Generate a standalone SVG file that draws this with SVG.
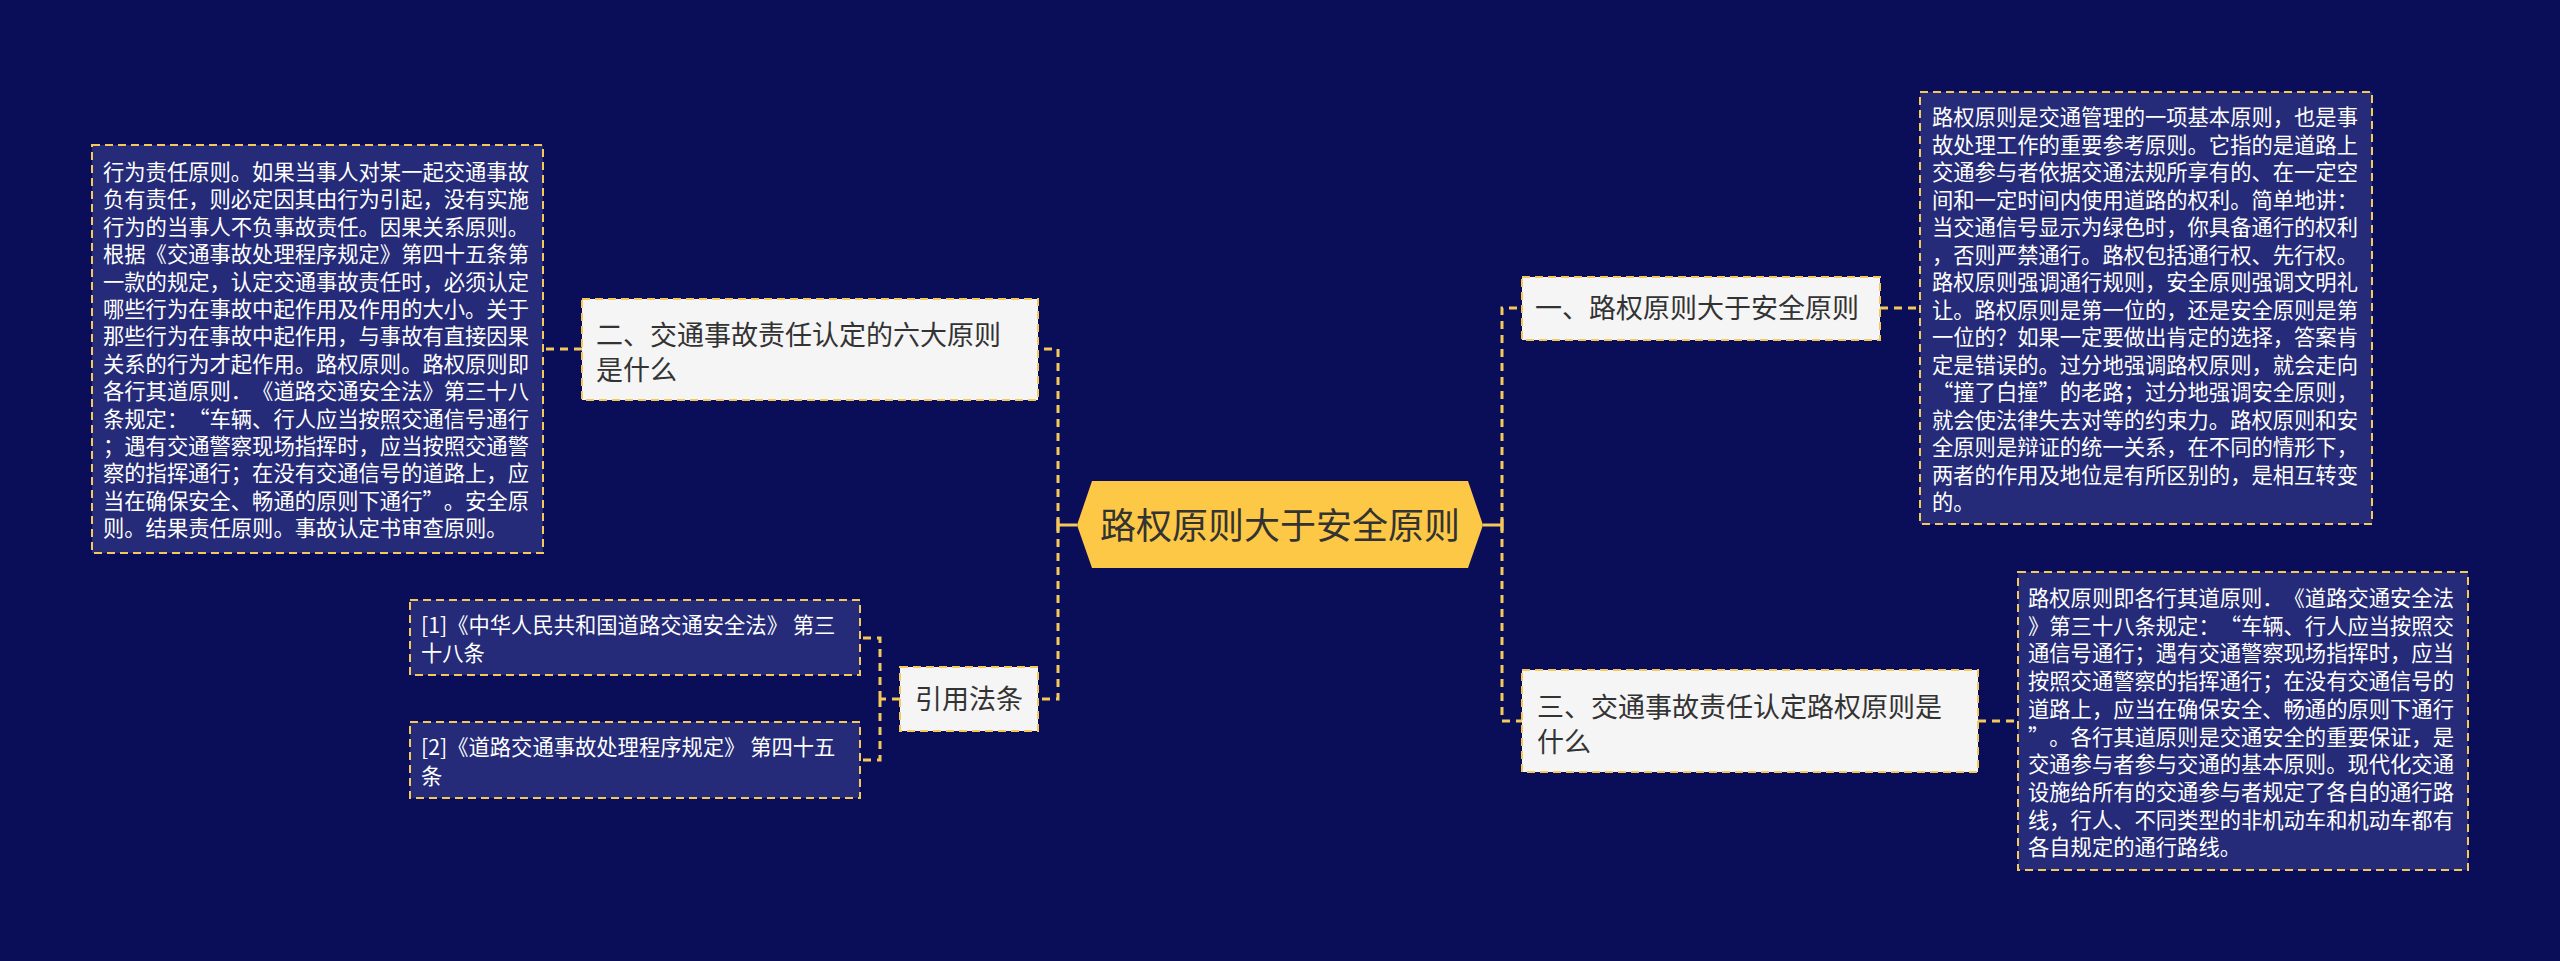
<svg xmlns="http://www.w3.org/2000/svg" width="2560" height="961" viewBox="0 0 2560 961">
<style>
.bg{fill:#0a0e59}
.conn{fill:none;stroke:#f5c85a;stroke-width:3;stroke-dasharray:8 6}
.solid{fill:none;stroke:#f5c85a;stroke-width:3}
.detail{fill:#252b78;stroke:#f5c85a;stroke-width:2;stroke-dasharray:8 5}
.head{fill:#f5f5f5;stroke:#f5c85a;stroke-width:2;stroke-dasharray:8 5}
.center{fill:#fcc846}
text{text-spacing-trim:space-all}
.dt{font-family:"Noto Sans CJK SC","Noto Sans",sans-serif;font-size:21.3px;fill:#ffffff}
.ht{font-family:"Noto Sans CJK SC","Noto Sans",sans-serif;font-size:27px;fill:#333333}
.ct{font-family:"Noto Sans CJK SC","Noto Sans",sans-serif;font-size:36px;fill:#333333}
</style>
<rect class="bg" x="0" y="0" width="2560" height="961"/>
<g id="connectors">
<path class="solid" d="M1483 525 H1502 M1502 519 V531"/>
<path class="conn" d="M1502 525 V308 H1522 M1502 525 V721 H1522"/>
<path class="conn" d="M1880 308 H1920"/>
<path class="conn" d="M1978 721 H2018"/>
<path class="solid" d="M1077 525 H1058 M1058 519 V531"/>
<path class="conn" d="M1058 525 V349 H1038 M1058 525 V699 H1038"/>
<path class="conn" d="M582 349 H543"/>
<path class="conn" d="M900 699 H880 M880 699 V638 H860 M880 699 V760 H860"/>
</g>
<g id="node-center">
<polygon class="center" points="1077,525 1092,481 1468,481 1483,525 1468,568 1092,568"/>
<text class="ct" x="1280" y="539" text-anchor="middle">路权原则大于安全原则</text>
</g>
<g id="node-1">
<rect class="head" x="1522" y="277" width="358" height="63"/>
<text class="ht" x="1535" y="318">一、路权原则大于安全原则</text>
</g>
<g id="node-3">
<rect class="head" x="1522" y="670" width="456" height="102"/>
<text class="ht" x="1537" y="717">三、交通事故责任认定路权原则是</text>
<text class="ht" x="1537" y="752">什么</text>
</g>
<g id="node-2">
<rect class="head" x="582" y="299" width="456" height="101"/>
<text class="ht" x="596" y="345">二、交通事故责任认定的六大原则</text>
<text class="ht" x="596" y="380">是什么</text>
</g>
<g id="node-cite">
<rect class="head" x="900" y="667" width="138" height="64"/>
<text class="ht" x="915" y="709">引用法条</text>
</g>
<g id="detail-1">
<rect class="detail" x="1920" y="92" width="452" height="432"/>
<text class="dt">
<tspan x="1932" y="125">路权原则是交通管理的一项基本原则，也是事</tspan>
<tspan x="1932" y="152.5">故处理工作的重要参考原则。它指的是道路上</tspan>
<tspan x="1932" y="180">交通参与者依据交通法规所享有的、在一定空</tspan>
<tspan x="1932" y="207.5">间和一定时间内使用道路的权利。简单地讲：</tspan>
<tspan x="1932" y="235">当交通信号显示为绿色时，你具备通行的权利</tspan>
<tspan x="1932" y="262.5">，否则严禁通行。路权包括通行权、先行权。</tspan>
<tspan x="1932" y="290">路权原则强调通行规则，安全原则强调文明礼</tspan>
<tspan x="1932" y="317.5">让。路权原则是第一位的，还是安全原则是第</tspan>
<tspan x="1932" y="345">一位的？如果一定要做出肯定的选择，答案肯</tspan>
<tspan x="1932" y="372.5">定是错误的。过分地强调路权原则，就会走向</tspan>
<tspan x="1932" y="400">“撞了白撞”的老路；过分地强调安全原则，</tspan>
<tspan x="1932" y="427.5">就会使法律失去对等的约束力。路权原则和安</tspan>
<tspan x="1932" y="455">全原则是辩证的统一关系，在不同的情形下，</tspan>
<tspan x="1932" y="482.5">两者的作用及地位是有所区别的，是相互转变</tspan>
<tspan x="1932" y="510">的。</tspan>
</text>
</g>
<g id="detail-3">
<rect class="detail" x="2018" y="572" width="450" height="298"/>
<text class="dt">
<tspan x="2028" y="606">路权原则即各行其道原则．《道路交通安全法</tspan>
<tspan x="2028" y="633.7">》第三十八条规定：“车辆、行人应当按照交</tspan>
<tspan x="2028" y="661.4">通信号通行；遇有交通警察现场指挥时，应当</tspan>
<tspan x="2028" y="689.1">按照交通警察的指挥通行；在没有交通信号的</tspan>
<tspan x="2028" y="716.8">道路上，应当在确保安全、畅通的原则下通行</tspan>
<tspan x="2028" y="744.5">”。各行其道原则是交通安全的重要保证，是</tspan>
<tspan x="2028" y="772.2">交通参与者参与交通的基本原则。现代化交通</tspan>
<tspan x="2028" y="799.9">设施给所有的交通参与者规定了各自的通行路</tspan>
<tspan x="2028" y="827.6">线，行人、不同类型的非机动车和机动车都有</tspan>
<tspan x="2028" y="855.3">各自规定的通行路线。</tspan>
</text>
</g>
<g id="detail-2">
<rect class="detail" x="92" y="145" width="451" height="408"/>
<text class="dt">
<tspan x="103" y="180">行为责任原则。如果当事人对某一起交通事故</tspan>
<tspan x="103" y="207.4">负有责任，则必定因其由行为引起，没有实施</tspan>
<tspan x="103" y="234.8">行为的当事人不负事故责任。因果关系原则。</tspan>
<tspan x="103" y="262.2">根据《交通事故处理程序规定》第四十五条第</tspan>
<tspan x="103" y="289.6">一款的规定，认定交通事故责任时，必须认定</tspan>
<tspan x="103" y="317">哪些行为在事故中起作用及作用的大小。关于</tspan>
<tspan x="103" y="344.4">那些行为在事故中起作用，与事故有直接因果</tspan>
<tspan x="103" y="371.8">关系的行为才起作用。路权原则。路权原则即</tspan>
<tspan x="103" y="399.2">各行其道原则．《道路交通安全法》第三十八</tspan>
<tspan x="103" y="426.6">条规定：“车辆、行人应当按照交通信号通行</tspan>
<tspan x="103" y="454">；遇有交通警察现场指挥时，应当按照交通警</tspan>
<tspan x="103" y="481.4">察的指挥通行；在没有交通信号的道路上，应</tspan>
<tspan x="103" y="508.8">当在确保安全、畅通的原则下通行”。安全原</tspan>
<tspan x="103" y="536.2">则。结果责任原则。事故认定书审查原则。</tspan>
</text>
</g>
<g id="cite-1">
<rect class="detail" x="410" y="600" width="450" height="75"/>
<text class="dt"><tspan x="421" y="633">[1]《中华人民共和国道路交通安全法》 第三</tspan><tspan x="421" y="661">十八条</tspan></text>
</g>
<g id="cite-2">
<rect class="detail" x="410" y="722" width="450" height="76"/>
<text class="dt"><tspan x="421" y="755">[2]《道路交通事故处理程序规定》 第四十五</tspan><tspan x="421" y="784">条</tspan></text>
</g>
</svg>
